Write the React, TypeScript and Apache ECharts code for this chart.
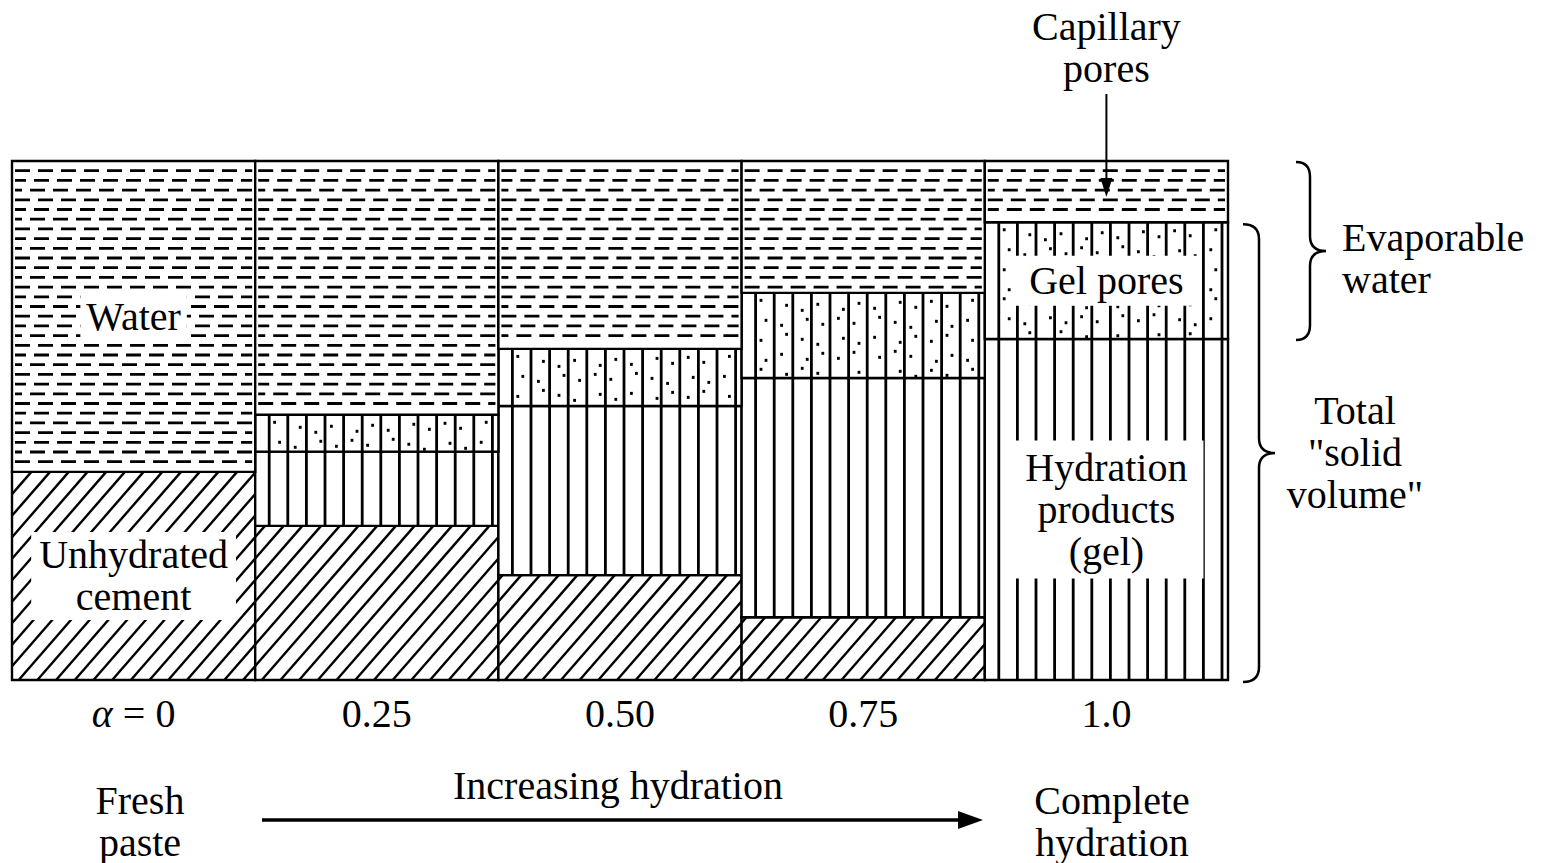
import React, { useEffect, useRef } from 'react';
import * as echarts from 'echarts';

// ---- data (percent of total paste volume) ----
const categories = ['α = 0', '0.25', '0.50', '0.75', '1.0'];
const unhydratedCement = [40.1, 29.7, 20.2, 12.1, 0];
const hydrationProducts = [0, 14.3, 32.6, 46.1, 65.7];
const gelPores = [0, 7.1, 11.0, 16.4, 22.5];
const capillaryWater = [59.9, 48.9, 36.2, 25.4, 11.8];

const componentNames = ['Unhydrated cement', 'Hydration products (gel)', 'Gel pores', 'Capillary pores'];
const componentLabels = ['Unhydrated\ncement', 'Hydration\nproducts\n(gel)', 'Gel pores', 'Water'];
const labelBar = [0, 4, 4, 0];
const patternKinds = ['diagonal', 'vertical', 'dotted', 'dashed'];

const FONT = '"Liberation Serif", "Times New Roman", serif';
const FS = 40;
const LH = 42;

const labelPadding: any[] = [[2, 8], [6, 16], [4, 14], [2, 6]];

function buildRenderItem(k: number) {
  return (params: any, api: any) => {
    const i = api.value(0);
    const y0 = api.value(1);
    const y1 = api.value(2);
    if (!(y1 > y0)) return null;
    const pb = api.coord([i, y0]);
    const pt = api.coord([i, y1]);
    const bw = api.size([1, 0])[0];
    const xl = pb[0] - bw / 2;
    const xr = pb[0] + bw / 2;
    const top = pt[1];
    const bottom = pb[1];
    const h = bottom - top;
    const children: any[] = [];
    children.push({ type: 'rect', shape: { x: xl, y: top, width: bw, height: h }, style: { fill: '#fff' } });
    const kind = patternKinds[k];
    if (kind === 'dashed') {
      let r = 0;
      for (let yy = top + 9.7; yy < bottom - 4; yy += 9.7, r++) {
        children.push({
          type: 'line',
          shape: { x1: xl + 3, y1: yy, x2: xr - 3, y2: yy },
          style: { stroke: '#000', lineWidth: 2.8, lineDash: [15, 8], lineDashOffset: (r % 3) * 4 },
        });
      }
    } else if (kind === 'vertical' || kind === 'dotted') {
      let j = 0;
      for (let xx = xl + 14; xx < xr - 4; xx += 18.6, j++) {
        children.push({
          type: 'line',
          shape: { x1: xx, y1: top, x2: xx, y2: bottom },
          style: { stroke: '#000', lineWidth: 2.8 },
        });
        if (kind === 'dotted') {
          let r = 0;
          for (let yy = top + 6; yy < bottom - 4; yy += 17, r++) {
            const dx = 4 + ((j * 7 + r * 5) % 10);
            const dy = (j * 5 + r * 3) % 11;
            if (yy + dy < bottom - 3 && xx + dx < xr - 3) {
              children.push({
                type: 'rect',
                shape: { x: xx + dx, y: yy + dy, width: 2.8, height: 3 },
                style: { fill: '#000' },
              });
            }
          }
        }
      }
    } else if (kind === 'diagonal') {
      const s = 1.15;
      const sp = 18.7;
      const cStart = Math.floor((xl - h / s) / sp) * sp;
      for (let c = cStart; c < xr; c += sp) {
        const dmin = Math.max(0, (xl - c) * s);
        const dmax = Math.min(h, (xr - c) * s);
        if (dmax - dmin > 1) {
          children.push({
            type: 'line',
            shape: { x1: c + dmin / s, y1: bottom - dmin, x2: c + dmax / s, y2: bottom - dmax },
            style: { stroke: '#000', lineWidth: 2.4 },
          });
        }
      }
    }
    if (params.dataIndex === labelBar[k]) {
      children.push({
        type: 'text',
        style: {
          text: componentLabels[k],
          x: (xl + xr) / 2,
          y: (top + bottom) / 2,
          align: 'center',
          verticalAlign: 'middle',
          fontSize: FS,
          fontFamily: FONT,
          lineHeight: LH,
          fill: '#000',
          backgroundColor: '#fff',
          padding: labelPadding[k],
        },
      });
    }
    children.push({
      type: 'rect',
      shape: { x: xl, y: top, width: bw, height: h },
      style: { fill: 'none', stroke: '#000', lineWidth: 2.4 },
    });
    return { type: 'group', children };
  };
}

export default function App() {
  const ref = useRef<HTMLDivElement>(null);
  useEffect(() => {
    if (!ref.current) return;
    const chart = echarts.init(ref.current, undefined, { renderer: 'svg' });
    const comps = [unhydratedCement, hydrationProducts, gelPores, capillaryWater];
    const series = comps.map((arr, k) => ({
      type: 'custom',
      name: componentNames[k],
      renderItem: buildRenderItem(k),
      encode: { x: 0, y: [1, 2] },
      data: arr.map((v, i) => {
        let base = 0;
        for (let m = 0; m < k; m++) base += comps[m][i];
        return [i, base, base + v];
      }),
    }));
    chart.setOption({
      animation: false,
      grid: { left: 12, top: 161, width: 1216, height: 519 },
      xAxis: {
        type: 'category',
        data: categories,
        boundaryGap: true,
        axisLine: { show: false },
        axisTick: { show: false },
        splitLine: { show: false },
        axisLabel: {
          margin: 13,
          fontSize: FS,
          fontFamily: FONT,
          color: '#000',
          formatter: (v: string) => v.replace('α', '{a|α}'),
          rich: { a: { fontStyle: 'italic', fontSize: FS, fontFamily: FONT, color: '#000' } },
        },
      },
      yAxis: { type: 'value', min: 0, max: 100, show: false },
      series,
    });

    // annotations positioned from the chart's own scale
    const last = categories.length - 1;
    const px = (v: number) => chart.convertToPixel({ gridIndex: 0 }, [last, v]) as number[];
    const bw = 1216 / categories.length;
    const xr = px(0)[0] + bw / 2;
    const yTop = px(100)[1];
    const yGelBottom = px(unhydratedCement[last] + hydrationProducts[last])[1];
    const yGelTop = px(unhydratedCement[last] + hydrationProducts[last] + gelPores[last])[1];
    const yBottom = px(0)[1];
    const brace = (x0: number, xv: number, xt: number, ya: number, yb: number) => {
      const ym = (ya + yb) / 2;
      const r = 15;
      return `M${x0} ${ya} Q${xv} ${ya} ${xv} ${ya + r} L${xv} ${ym - r} Q${xv} ${ym} ${xt} ${ym} Q${xv} ${ym} ${xv} ${ym + r} L${xv} ${yb - r} Q${xv} ${yb} ${x0} ${yb}`;
    };
    echarts.graphic.registerShape('braceEvap', echarts.graphic.extendPath(brace(xr + 68, xr + 82, xr + 98, yTop + 1, yGelBottom + 1), {}));
    echarts.graphic.registerShape('braceSolid', echarts.graphic.extendPath(brace(xr + 15, xr + 31, xr + 47, yGelTop + 2, yBottom + 2), {}));

    const txt = (text: string, x: number, y: number, align = 'center') => ({
      type: 'text',
      z: 100,
      style: { text, x, y, align, verticalAlign: 'middle', fontSize: FS, fontFamily: FONT, lineHeight: LH, fill: '#000' },
    });
    const xc = px(0)[0];
    chart.setOption({
      graphic: [
        { type: 'braceEvap', x: 0, y: 0, z: 100, style: { fill: 'none', stroke: '#000', lineWidth: 2.5 } },
        { type: 'braceSolid', x: 0, y: 0, z: 100, style: { fill: 'none', stroke: '#000', lineWidth: 2.5 } },
        txt('Capillary\npores', xc, 47),
        { type: 'line', z: 100, shape: { x1: xc, y1: 94, x2: xc, y2: 186 }, style: { stroke: '#000', lineWidth: 2 } },
        { type: 'polygon', z: 100, shape: { points: [[xc - 6, 178], [xc + 6, 178], [xc, 197]] }, style: { fill: '#000' } },
        txt('Evaporable\nwater', xr + 114, 258, 'left'),
        txt('Total\n"solid\nvolume"', xr + 127, 452),
        txt('Fresh\npaste', 140, 821),
        txt('Increasing hydration', 618, 785),
        { type: 'line', z: 100, shape: { x1: 262, y1: 820, x2: 962, y2: 820 }, style: { stroke: '#000', lineWidth: 3.5 } },
        { type: 'polygon', z: 100, shape: { points: [[958, 811], [983, 820], [958, 829]] }, style: { fill: '#000' } },
        txt('Complete\nhydration', 1112, 821),
      ],
    });
    return () => chart.dispose();
  }, []);
  return <div ref={ref} style={{ position: 'absolute', left: 0, top: 0, width: 1543, height: 863, background: '#fff' }} />;
}
